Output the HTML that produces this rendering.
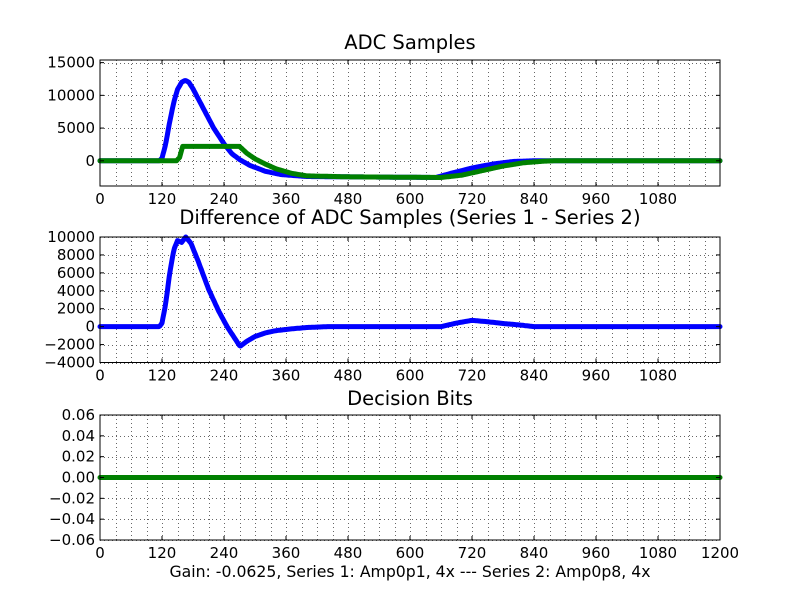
<!DOCTYPE html>
<html><head><meta charset="utf-8"><style>
body{margin:0;background:#fff}
svg text{font-family:"DejaVu Sans","Liberation Sans",sans-serif;fill:#000}
</style></head><body>
<svg id="s" width="800" height="600" xmlns="http://www.w3.org/2000/svg">
<rect width="800" height="600" fill="#fff"/>
<g id="grid"></g>
<g id="data" fill="none" stroke-width="5" stroke-linejoin="round" stroke-linecap="round"></g>
<g id="frame"></g>
</svg>
<script>
const NS="http://www.w3.org/2000/svg";
function el(p,t,a,txt){const e=document.createElementNS(NS,t);for(const k in a)e.setAttribute(k,a[k]);if(txt!==undefined)e.textContent=txt;document.getElementById(p).appendChild(e);return e;}
const X0=100,X1=720;const px=x=>X0+x*(X1-X0)/1200;
const axes=[
 {top:60,bot:186,ymin:-3850,ymax:15400,yt:[0,5000,10000,15000],xl:[0,120,240,360,480,600,720,840,960,1080],title:"ADC Samples",ty:49},
 {top:237,bot:362.5,ymin:-4000,ymax:10000,yt:[-4000,-2000,0,2000,4000,6000,8000,10000],xl:[0,120,240,360,480,600,720,840,960,1080],title:"Difference of ADC Samples (Series 1 - Series 2)",ty:224},
 {top:415,bot:540,ymin:-0.06,ymax:0.06,yt:[-0.06,-0.04,-0.02,0,0.02,0.04,0.06],xl:[0,120,240,360,480,600,720,840,960,1080,1200],title:"Decision Bits",ty:405,fmt:v=>v.toFixed(2).replace('-','\u2212')}
];
axes.forEach(a=>{
 a.py=v=>a.bot-(v-a.ymin)/(a.ymax-a.ymin)*(a.bot-a.top);
 for(let x=30;x<1200;x+=30){const X=Math.round(px(x))+0.5;el("grid","line",{x1:X,x2:X,y1:a.top,y2:a.bot,stroke:"#666","stroke-width":1,"stroke-dasharray":"1,3"});}
 a.yt.forEach(v=>{const y=a.py(v);const Y=Math.round(y)+0.5;
  el("grid","line",{x1:X0,x2:X1,y1:Y,y2:Y,stroke:"#666","stroke-width":1,"stroke-dasharray":"1,3"});
  el("frame","line",{x1:X0,x2:X0+4,y1:y,y2:y,stroke:"#000"});
  el("frame","line",{x1:X1-4,x2:X1,y1:y,y2:y,stroke:"#000"});
  const t=a.fmt?a.fmt(v):String(v).replace('-','\u2212');
  el("frame","text",{x:X0-5,y:y+5,"text-anchor":"end","font-size":"15"},t);
 });
 for(let x=0;x<=1200;x+=120){el("frame","line",{x1:px(x),x2:px(x),y1:a.bot,y2:a.bot-4,stroke:"#000"});el("frame","line",{x1:px(x),x2:px(x),y1:a.top,y2:a.top+4,stroke:"#000"});}
 a.xl.forEach(x=>el("frame","text",{x:px(x),y:a.bot+18,"text-anchor":"middle","font-size":"15"},String(x)));
 el("frame","rect",{x:X0,y:a.top,width:X1-X0,height:a.bot-a.top,fill:"none",stroke:"#000","stroke-width":1});
 el("frame","text",{x:410,y:a.ty,"text-anchor":"middle","font-size":"19.5"},a.title);
});
el("frame","text",{x:410,y:577,"text-anchor":"middle","font-size":"15.7"},"Gain: -0.0625, Series 1: Amp0p1, 4x --- Series 2: Amp0p8, 4x");
function interp(pts,x){for(let i=0;i<pts.length-1;i++){const[a,b]=pts[i],[c,d]=pts[i+1];if(x>=a&&x<=c){const t=(x-a)/(c-a);return b+(d-b)*t;}}return pts[pts.length-1][1];}
function path(a,pts,col){let d="";for(let x=0;x<=1200;x+=2){const v=interp(pts,x);d+=(d?"L":"M")+px(x).toFixed(1)+","+a.py(v).toFixed(1);}el("data","path",{d,stroke:col});}
const blue1=[[0,0],[115,0],[120,400],[127,2500],[135,6000],[143,9000],[150,10900],[158,12000],[165,12300],[172,12000],[180,11000],[200,8000],[220,5000],[240,2600],[255,1100],[270,200],[290,-700],[320,-1600],[350,-2100],[400,-2400],[480,-2450],[650,-2550],[680,-1900],[720,-1100],[760,-500],[800,-100],[840,0],[1200,0]];
const green1=[[0,0],[148,0],[154,500],[160,2200],[270,2200],[285,1100],[300,300],[320,-500],[340,-1200],[370,-1900],[400,-2300],[480,-2450],[660,-2550],[700,-2200],[740,-1500],[780,-800],[820,-300],[860,-50],[880,0],[1200,0]];
path(axes[0],blue1,"#0000ff");path(axes[0],green1,"#008000");
const diff=[[0,0],[115,0],[120,400],[127,2500],[135,6000],[143,8600],[150,9600],[158,9400],[166,10000],[176,9300],[190,7300],[210,4200],[230,1700],[246,0],[271,-2200],[285,-1600],[300,-1100],[320,-700],[340,-450],[370,-250],[400,-100],[440,0],[660,0],[690,400],[720,700],[750,550],[780,350],[810,200],[840,0],[1200,0]];
path(axes[1],diff,"#0000ff");
path(axes[2],[[0,0],[1200,0]],"#008000");
</script>
</body></html>
